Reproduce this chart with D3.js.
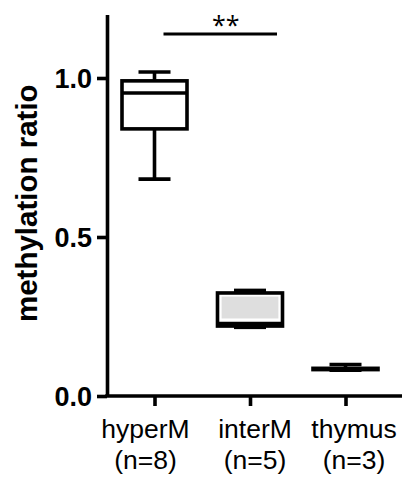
<!DOCTYPE html>
<html><head><meta charset="utf-8">
<script src="https://cdn.jsdelivr.net/npm/d3@7"></script>
<style>body{margin:0;background:#fff}svg{display:block}</style>
</head><body><svg id="c" width="405" height="477"></svg>
<script>
// ---- data ----
const categories = ["hyperM", "interM", "thymus"];
const nLabels = ["(n=8)", "(n=5)", "(n=3)"];
const whiskerMin = [0.682, 0.216, 0.081];
const q1 = [0.840, 0.220, 0.083];
const median = [0.953, 0.228, 0.085];
const q3 = [0.991, 0.324, 0.087];
const whiskerMax = [1.019, 0.332, 0.099];
const boxFill = ["#ffffff", "#dedede", "#ffffff"];
const yTicks = [0.0, 0.5, 1.0];
const sigPair = ["hyperM", "interM"];
const sigLabel = "**";
const sigValue = 1.138;

// ---- layout ----
const svg = d3.select("#c");
const axisX = 107, baseY = 396, rightX = 402;
const y = d3.scaleLinear().domain([0, 1.2]).range([baseY, baseY - 1.2 * 318]);
const x = d3.scalePoint().domain(categories).range([154.5, 345.5]);
const boxW = 65, capW = 32, sw = 3.6;
const labelDx = {hyperM: -9, interM: 5, thymus: 8.5};

const data = categories.map((c, i) => ({
  c, n: nLabels[i], lo: whiskerMin[i], q1: q1[i], med: median[i], q3: q3[i], hi: whiskerMax[i], fill: boxFill[i]
}));

// y axis
const yAxis = svg.append("g").attr("transform", `translate(${axisX},0)`)
  .call(d3.axisLeft(y).tickValues(yTicks).tickFormat(d3.format(".1f")).tickSize(10).tickSizeOuter(0).tickPadding(5));
yAxis.selectAll("path,line").attr("stroke", "#000").attr("stroke-width", sw);
yAxis.selectAll("text").attr("font-family", "'Liberation Sans', Arial, sans-serif")
  .attr("font-weight", "bold").attr("font-size", 27).attr("fill", "#000").attr("dy", "0.36em");

// x axis
const xAxis = svg.append("g").attr("transform", `translate(0,${baseY})`)
  .call(d3.axisBottom(x).tickSize(10).tickFormat(""));
xAxis.select(".domain").remove();
xAxis.selectAll("line").attr("stroke", "#000").attr("stroke-width", sw);
svg.append("line").attr("x1", axisX - sw / 2).attr("x2", rightX)
  .attr("y1", baseY).attr("y2", baseY).attr("stroke", "#000").attr("stroke-width", sw);

// x labels
const lab = svg.append("g").attr("font-family", "'Liberation Sans', Arial, sans-serif").attr("font-size", 26.5)
  .attr("fill", "#000").attr("text-anchor", "middle");
lab.selectAll("text.l1").data(data).join("text").attr("class", "l1")
  .attr("x", d => x(d.c) + labelDx[d.c]).attr("y", 438).text(d => d.c);
lab.selectAll("text.l2").data(data).join("text").attr("class", "l2")
  .attr("x", d => x(d.c) + labelDx[d.c]).attr("y", 469).text(d => d.n);

// y label
svg.append("text").attr("transform", `translate(37,${(y(0) + y(1.2)) / 2 - 2}) rotate(-90)`)
  .attr("text-anchor", "middle").attr("font-family", "'Liberation Sans', Arial, sans-serif")
  .attr("font-weight", "bold").attr("font-size", 29.5).attr("fill", "#000").text("methylation ratio");

// boxes
const g = svg.append("g").attr("stroke", "#000").attr("stroke-width", sw);
const b = g.selectAll("g.box").data(data).join("g").attr("class", "box");
// whiskers
b.append("line").attr("x1", d => x(d.c)).attr("x2", d => x(d.c)).attr("y1", d => y(d.hi)).attr("y2", d => y(d.q3));
b.append("line").attr("x1", d => x(d.c)).attr("x2", d => x(d.c)).attr("y1", d => y(d.lo)).attr("y2", d => y(d.q1));
b.append("line").attr("x1", d => x(d.c) - capW / 2).attr("x2", d => x(d.c) + capW / 2).attr("y1", d => y(d.hi)).attr("y2", d => y(d.hi));
b.append("line").attr("x1", d => x(d.c) - capW / 2).attr("x2", d => x(d.c) + capW / 2).attr("y1", d => y(d.lo)).attr("y2", d => y(d.lo));
// box
b.append("rect").attr("x", d => x(d.c) - boxW / 2).attr("width", boxW)
  .attr("y", d => y(d.q3)).attr("height", d => y(d.q1) - y(d.q3)).attr("fill", "#fff");
b.filter(d => d.fill !== "#ffffff").append("rect").attr("stroke", "none")
  .attr("x", d => x(d.c) - boxW / 2 + sw + 0.5).attr("width", boxW - 2 * sw - 1)
  .attr("y", d => y(d.q3) + sw).attr("height", d => Math.max(0, y(d.med) - y(d.q3) - sw - 5))
  .attr("fill", d => d.fill);
b.append("line").attr("x1", d => x(d.c) - boxW / 2).attr("x2", d => x(d.c) + boxW / 2)
  .attr("y1", d => y(d.med)).attr("y2", d => y(d.med));

// significance
const sy = y(sigValue);
svg.append("line").attr("x1", x(sigPair[0]) + 9).attr("x2", x(sigPair[1]) + 27)
  .attr("y1", sy).attr("y2", sy).attr("stroke", "#000").attr("stroke-width", 3);
svg.append("text").attr("x", (x(sigPair[0]) + x(sigPair[1])) / 2 + 23.5).attr("y", sy - 0.5)
  .attr("text-anchor", "middle").attr("font-family", "'Open Sans', sans-serif").attr("font-size", 25)
  .attr("fill", "#000").text(sigLabel);
</script></body></html>
